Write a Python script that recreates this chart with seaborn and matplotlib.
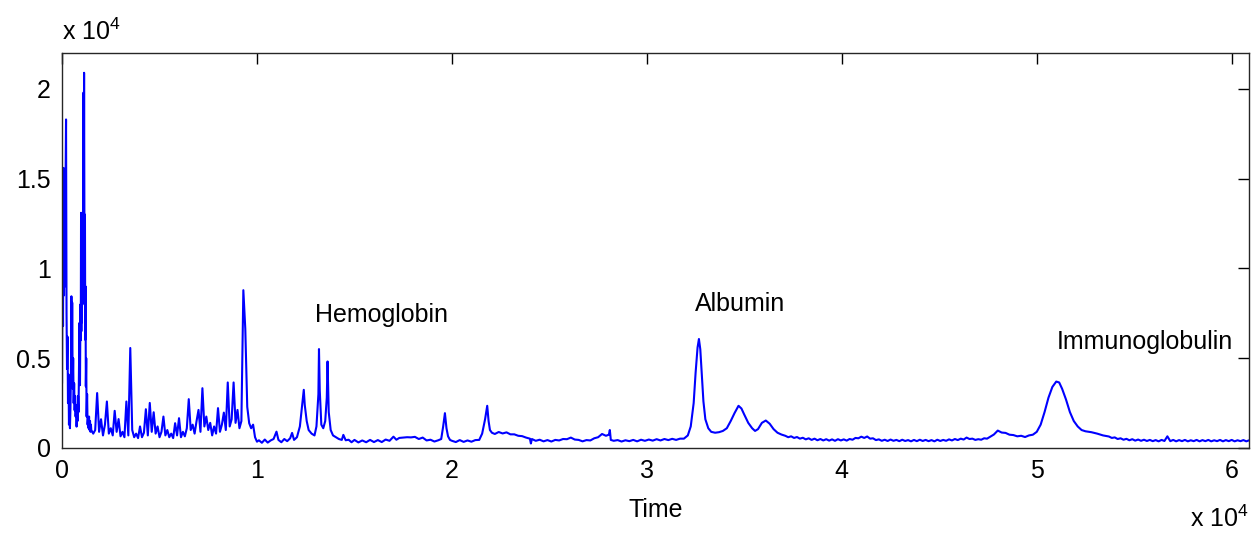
import numpy as np
import pandas as pd
import matplotlib
matplotlib.use("Agg")
import matplotlib.pyplot as plt
import seaborn as sns

sns.set_style("white")
plt.rcParams['font.family'] = ['Liberation Sans', 'DejaVu Sans']
plt.rcParams['mathtext.default'] = 'regular'
plt.rcParams['text.color'] = 'black'

# chromatogram trace (time, intensity)
t_onset = [0, 25, 50, 75, 100, 125, 150, 175, 205, 230, 255, 280, 305, 330, 355, 380,
           405, 430, 455, 480, 500, 520, 545, 570, 595, 620, 645, 670, 695, 720, 745, 770,
           795, 820, 845, 870, 895, 920, 945, 960, 975, 990, 1005, 1020, 1035, 1050, 1065, 1080,
           1100, 1115, 1130, 1145, 1160, 1175, 1190, 1205, 1220, 1240, 1260, 1285, 1310, 1335, 1360, 1385,
           1410, 1435, 1460, 1480, 1500]
i_onset = [3600, 11000, 6800, 15600, 8500, 13500, 9000, 14000, 18300, 7500, 4400, 6200, 2500, 4100, 1300, 2600,
           1100, 2200, 4000, 8450, 3900, 8100, 3300, 5000, 2500, 3600, 2100, 2900, 1750, 2400, 1190, 2000,
           1500, 2900, 2000, 4300, 6970, 3500, 8000, 6000, 13100, 6500, 12500, 7000, 13000, 8000, 12800, 9500,
           19800, 12000, 20900, 13300, 9000, 13000, 6030, 9000, 3430, 5000, 1750, 3000, 1300, 1700, 1100, 1750,
           1000, 1500, 900, 1300, 1000]

t_early = [1600, 1700, 1800, 1900, 2000, 2100, 2200, 2300, 2400, 2500, 2600, 2700, 2800, 2900, 3000,
           3100, 3200, 3300, 3400, 3500, 3600, 3700, 3800, 3900, 4000, 4100, 4200, 4300, 4400, 4500,
           4600, 4700, 4800, 4900, 5000, 5100, 5200, 5300, 5400, 5500, 5600, 5700, 5800, 5900, 6000,
           6100, 6200, 6300, 6400, 6500, 6600, 6700, 6800, 6900, 7000, 7100, 7200, 7300, 7400, 7500,
           7600, 7700, 7800, 7900, 8000, 8100, 8200, 8300, 8400, 8500, 8600, 8700, 8800, 8900, 9000,
           9100, 9200, 9300, 9400, 9500, 9600, 9700, 9800, 9900, 10000]
i_early = [800, 1000, 3060, 900, 1600, 700, 1300, 2590, 800, 1100, 700, 2070, 900, 1610, 650,
           900, 600, 2590, 700, 5570, 1000, 600, 800, 550, 1200, 600, 850, 2160, 700, 2510,
           900, 1990, 800, 1200, 600, 900, 1750, 700, 1000, 600, 800, 550, 1380, 700, 1660,
           600, 900, 650, 1100, 2720, 1000, 1300, 800, 1500, 2120, 900, 3330, 1200, 1750, 1000,
           1400, 700, 1200, 800, 2220, 900, 1300, 1970, 1000, 3650, 1200, 1600, 3650, 1400, 2120,
           1100, 1500, 8790, 6630, 2290, 1380, 1100, 1300, 600, 350]

t_mid = [10100, 10250, 10400, 10550, 10700, 10850, 11000, 11100, 11250, 11400, 11550, 11700, 11800, 11900,
         12050, 12200, 12300, 12400, 12450, 12550, 12650, 12800, 12950, 13050, 13150, 13180, 13220, 13300,
         13400, 13500, 13580, 13620, 13680, 13780, 13900, 14050, 14200, 14350, 14430, 14550, 14700, 14850,
         15000, 15200, 15400, 15600, 15800, 16000, 16200, 16400, 16600, 16800, 17000, 17150, 17300, 17500,
         17700, 17900, 18100, 18300, 18500, 18700, 18900, 19100, 19300, 19450, 19550, 19640, 19720, 19800,
         19900]
i_mid = [430, 290, 470, 300, 420, 500, 910, 450, 320, 500, 380, 540, 840, 450,
         600, 1200, 2200, 3240, 2400, 1500, 1000, 800, 700, 1200, 3000, 5510, 3200, 1300,
         1100, 1500, 2800, 4820, 2000, 1000, 700, 600, 500, 450, 730, 430, 460, 320,
         450, 310, 420, 320, 450, 330, 440, 330, 470, 400, 630, 460, 560, 580,
         600, 590, 620, 500, 580, 420, 460, 360, 430, 500, 1200, 1940, 1100, 650,
         450]

t_late_a = [20000, 20200, 20400, 20600, 20800, 21000, 21200, 21400, 21550, 21700, 21810, 21880, 21950, 22050,
            22200, 22400, 22600, 22800, 23000, 23200, 23400, 23600, 23800, 24000, 24050, 24100, 24300, 24500,
            24700, 24900, 25100, 25300, 25500, 25700, 25900, 26100, 26300, 26500, 26700, 26900, 27100, 27300,
            27500, 27700, 27900, 28050, 28100, 28150, 28300, 28500, 28700, 28900, 29100, 29300, 29500, 29700,
            29900, 30100, 30300, 30500, 30700, 30900, 31100, 31300, 31500, 31700, 31900, 32100, 32250, 32400,
            32500, 32600, 32670, 32740, 32820, 32900, 33000, 33150, 33300, 33500, 33700, 33900, 34100, 34300,
            34500, 34700, 34850, 35000, 35200, 35400, 35550, 35700, 35900, 36100, 36300, 36500, 36700, 36900]
i_late_a = [400, 330, 440, 340, 420, 350, 440, 450, 800, 1600, 2350, 1500, 1000, 850,
            780, 890, 810, 870, 760, 760, 680, 660, 580, 520, 250, 500, 400, 460,
            370, 440, 360, 450, 420, 500, 490, 580, 470, 450, 370, 440, 420, 540,
            600, 780, 680, 740, 1000, 450, 400, 440, 360, 430, 380, 450, 370, 460,
            400, 470, 410, 490, 420, 500, 440, 510, 450, 520, 520, 700, 1200, 2500,
            4200, 5600, 6070, 5500, 4000, 2600, 1600, 1100, 900, 850, 880, 950, 1100, 1500,
            1950, 2350, 2200, 1850, 1400, 1100, 950, 1050, 1400, 1530, 1350, 1050, 850, 750]

t_late_b = [37100, 37250, 37400, 37550, 37700, 37850, 38000, 38150, 38300, 38450,
            38600, 38750, 38900, 39050, 39200, 39350, 39500, 39650, 39800, 39950,
            40100, 40250, 40400, 40550, 40700, 40850, 41000, 41150, 41300, 41450,
            41600, 41750, 41900, 42050, 42200, 42350, 42500, 42650, 42800, 42950,
            43100, 43250, 43400, 43550, 43700, 43850, 44000, 44150, 44300, 44450,
            44600, 44750, 44900, 45050, 45200, 45350, 45500, 45650, 45800, 45950,
            46100, 46250, 46400, 46550, 46700, 46850, 47000, 47150, 47300, 47450,
            47600]
i_late_b = [680, 600, 650, 560, 610, 520, 570, 480, 540, 450,
            520, 430, 500, 420, 490, 410, 480, 400, 490, 420,
            480, 410, 500, 460, 560, 540, 630, 560, 640, 520,
            540, 440, 480, 400, 460, 390, 470, 400, 450, 380,
            460, 390, 440, 370, 450, 380, 460, 390, 450, 380,
            440, 370, 460, 390, 450, 400, 480, 420, 500, 440,
            520, 470, 580, 500, 520, 450, 490, 460, 540, 520,
            620]

t_late_c = [47800, 48000, 48200, 48400, 48600, 48800, 49000, 49200, 49400, 49600, 49800, 50000, 50200, 50400,
            50600, 50800, 51000, 51150, 51300, 51500, 51700, 51900, 52100, 52300, 52500, 52800, 53100, 53400]
i_late_c = [750, 970, 860, 840, 740, 720, 650, 680, 610, 700, 740, 900, 1300, 2000,
            2800, 3400, 3700, 3650, 3300, 2700, 2000, 1500, 1200, 1000, 930, 880, 800, 700]

t_late_d = [53700, 53850, 54000, 54150, 54300, 54450, 54600, 54750, 54900, 55050,
            55200, 55350, 55500, 55650, 55800, 55950, 56100, 56250, 56400, 56550,
            56700, 56850, 57000, 57150, 57300, 57450, 57600, 57750, 57900, 58050,
            58200, 58350, 58500, 58650, 58800, 58950, 59100, 59250, 59400, 59550,
            59700, 59850, 60000, 60150, 60300, 60450, 60600, 60750, 60900]
i_late_d = [640, 560, 590, 500, 540, 460, 510, 430, 490, 410,
            470, 400, 460, 390, 450, 380, 440, 370, 450, 390,
            650, 380, 450, 370, 440, 380, 450, 370, 430, 380,
            450, 370, 440, 380, 450, 370, 430, 380, 450, 370,
            440, 380, 450, 370, 430, 380, 440, 370, 430]

peak_names = ['Hemoglobin', 'Albumin', 'Immunoglobulin']
peak_label_t = [12970, 32460, 51000]
peak_label_i = [7430, 8000, 5920]

x_ticks = [0, 10000, 20000, 30000, 40000, 50000, 60000]
x_ticklabels = ['0', '1', '2', '3', '4', '5', '6']
y_ticks = [0, 5000, 10000, 15000, 20000]
y_ticklabels = ['0', '0.5', '1', '1.5', '2']

df = pd.DataFrame({
    'Time': t_onset + t_early + t_mid + t_late_a + t_late_b + t_late_c + t_late_d,
    'Intensity': i_onset + i_early + i_mid + i_late_a + i_late_b + i_late_c + i_late_d,
})

fs = 18
fig = plt.figure(figsize=(12.51, 5.33), dpi=100)
ax = fig.add_axes([0.0496, 0.1595, 0.949, 0.741])
sns.lineplot(data=df, x='Time', y='Intensity', color='#0000ff', linewidth=1.5,
             sort=False, estimator=None, ax=ax)

ax.set_xlim(0, 60900)
ax.set_ylim(0, 22000)
ax.set_xticks(x_ticks)
ax.set_xticklabels(x_ticklabels)
ax.set_yticks(y_ticks)
ax.set_yticklabels(y_ticklabels)
ax.tick_params(direction='in', length=8, width=1, top=True, right=True,
               labelsize=fs, colors='black', pad=8)
for s in ax.spines.values():
    s.set_color('#262626')
    s.set_linewidth(1)
ax.set_xlabel('Time', fontsize=fs, labelpad=11, color='black')
ax.set_ylabel('')

for name, t, v in zip(peak_names, peak_label_t, peak_label_i):
    ax.text(t, v, name, fontsize=fs, va='center', ha='left', color='black')

ax.text(0, 1.02, r'x 10$^4$', transform=ax.transAxes, fontsize=fs, va='bottom', ha='left', color='black')
fig.text(0.998, 0.011, r'x 10$^4$', fontsize=fs, va='baseline', ha='right', color='black')

fig.savefig('out.png', dpi=100, facecolor='white')
